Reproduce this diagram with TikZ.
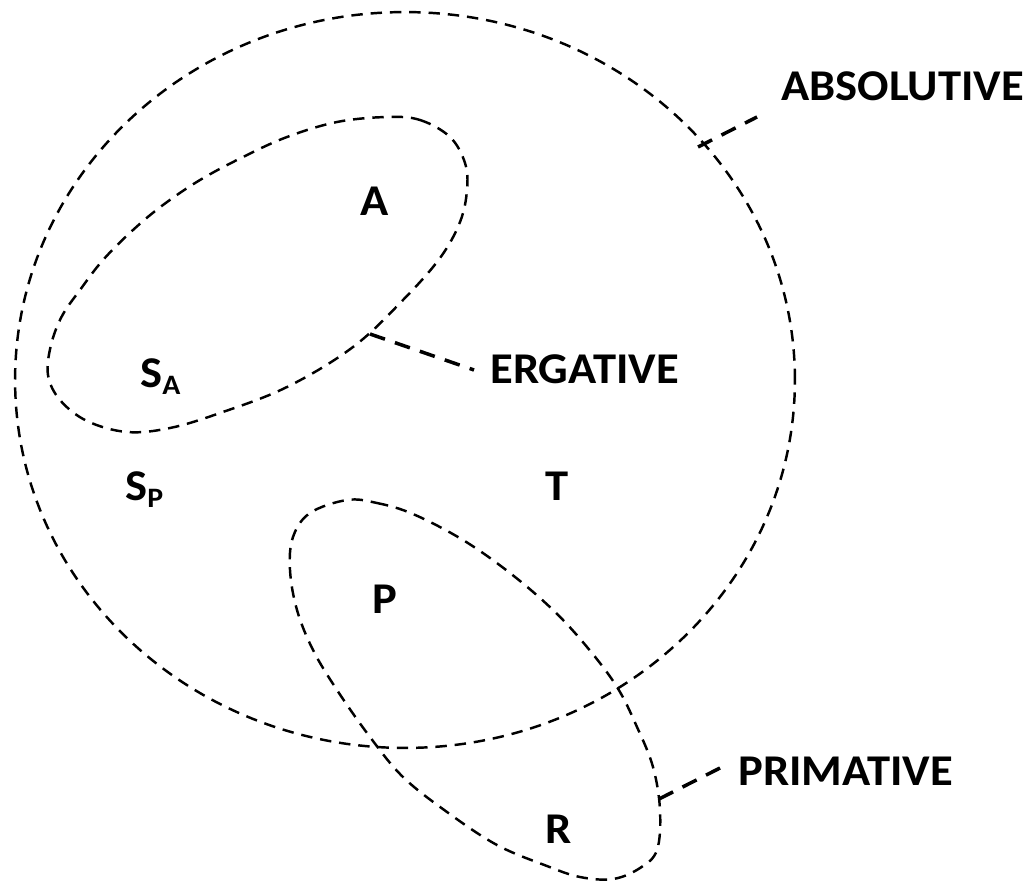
\documentclass[tikz,border=0pt]{standalone}
\usepackage{fontspec}
\setmainfont{Carlito}[FakeStretch=1.06]
\newcommand{\sublbl}[1]{\raisebox{-4pt}{\fontsize{16}{18}\selectfont #1}}
\tikzset{
  setline/.style={line width=1.4pt, dash pattern=on 6.5pt off 4.5pt},
  leader/.style={line width=2pt, dash pattern=on 9pt off 6pt},
  lbl/.style={anchor=base west, inner sep=0pt, font=\fontsize{25}{30}\selectfont\bfseries}
}
\begin{document}
\begin{tikzpicture}[x=0.02cm,y=-0.02cm]
    \useasboundingbox (0,0) rectangle (1033,882);

    % absolutive
    \draw[setline] (405,380) ellipse [x radius=7.8cm, y radius=7.36cm];

    % ergative
    \draw[setline] plot[smooth cycle, tension=0.6] coordinates {
      (387,117) (420,120) (450,137) (465,163) (467,190) (460,222) (440,258)
      (403,300) (353,347) (287,387) (220,413) (170,428) (127,432) (87,421)
      (60,400) (48,375) (51,345) (62,316) (80,290) (103,260) (133,230)
      (163,205) (200,180) (243,157) (287,137) (337,122)};

    % primative
    \draw[setline] plot[smooth cycle, tension=0.6] coordinates {
      (347,500) (377,503) (413,514) (463,540) (510,573) (553,610) (587,647)
      (617,687) (637,727) (653,767) (660,810) (657,850) (640,868) (613,879)
      (580,877) (547,866) (497,845) (447,812) (403,777) (370,737) (337,690)
      (313,650) (297,610) (290,570) (293,537) (310,513)};

    % etiquetas
    \node[lbl] (a) at (360,215) {A};
    \node[lbl] (sa) at (140,387) {S\sublbl{A}};
    \node[lbl] (sp) at (125,500) {S\sublbl{P}};
    \node[lbl] (t) at (545,500) {T};
    \node[lbl] (p) at (372,613) {P};
    \node[lbl] (r) at (545,843) {R};

    \node[lbl] (abs) at (781,100) {ABSOLUTIVE};
    \node[lbl] (erg) at (490,383) {ERGATIVE};
    \node[lbl] (prim) at (738,785) {PRIMATIVE};

    % lineas de las etiquetas
    \coordinate (abs-on) at (698,147);
    \coordinate (abs-end) at (757,117);
    \coordinate (erg-on) at (370,334);
    \coordinate (erg-end) at (474,370);
    \coordinate (prim-on) at (659,799);
    \coordinate (prim-end) at (720,768);

    \draw[leader] (abs-on) -- (abs-end);
    \draw[leader] (erg-on) -- (erg-end);
    \draw[leader] (prim-on) -- (prim-end);
\end{tikzpicture}
\end{document}
